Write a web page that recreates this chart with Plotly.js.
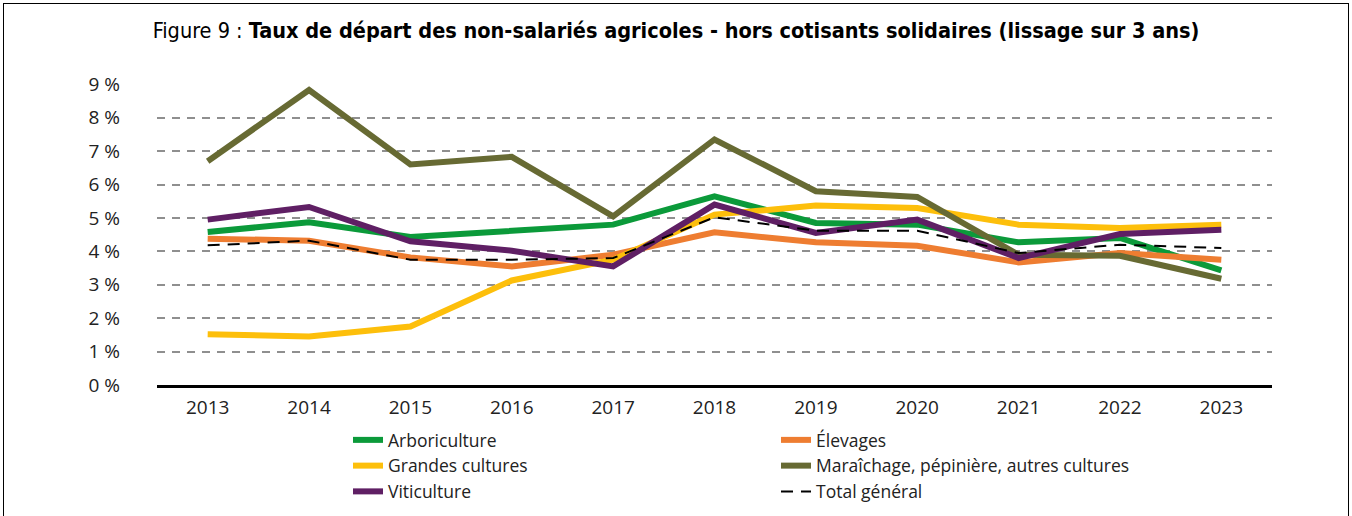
<!DOCTYPE html>
<html>
<head>
<meta charset="utf-8">
<script src="https://cdn.plot.ly/plotly-3.0.1.min.js"></script>
<style>
html,body{margin:0;padding:0;background:#fff;}
#frame{position:absolute;left:3px;top:3px;width:1346px;height:530px;border:1.5px solid #000;box-sizing:border-box;pointer-events:none;z-index:5;}
#chart{position:absolute;left:0;top:0;width:1352px;height:516px;}
</style>
</head>
<body>
<div id="chart"></div>
<div id="frame"></div>
<script>
const years = ["2013","2014","2015","2016","2017","2018","2019","2020","2021","2022","2023"];
const arboriculture = [4.58,4.87,4.43,4.62,4.80,5.65,4.85,4.80,4.27,4.40,3.43];
const elevages      = [4.38,4.32,3.82,3.55,3.90,4.57,4.27,4.17,3.67,3.95,3.75];
const grandesCultures = [1.52,1.45,1.75,3.13,3.75,5.10,5.37,5.30,4.80,4.70,4.80];
const maraichage    = [6.70,8.83,6.60,6.83,5.05,7.35,5.80,5.63,3.90,3.87,3.18];
const viticulture   = [4.95,5.33,4.30,4.02,3.55,5.40,4.55,4.95,3.80,4.52,4.65];
const totalGeneral  = [4.18,4.32,3.75,3.75,3.80,5.02,4.62,4.62,3.95,4.20,4.10];
const yTicks = [0,1,2,3,4,5,6,7,8,9];

const W = 6;
function tr(name, y, color, legend, extra) {
  return Object.assign({
    type: 'scatter', mode: 'lines', x: years, y: y, name: name,
    line: {color: color, width: W},
    legend: legend, hoverinfo: 'skip'
  }, extra || {});
}
const data = [
  tr('Arboriculture', arboriculture, '#0b9a3a', 'legend'),
  tr('Élevages', elevages, '#ee7d31', 'legend2'),
  tr('Grandes cultures', grandesCultures, '#fdbf0b', 'legend'),
  tr('Maraîchage, pépinière, autres cultures', maraichage, '#676a33', 'legend2'),
  tr('Viticulture', viticulture, '#5f1f64', 'legend'),
  tr('Total général', totalGeneral, '#000000', 'legend2', {line: {color: '#000', width: 2, dash: '12px,8px'}})
];

const fontFam = 'Open Sans, Lato, sans-serif';
const legendFont = {family: fontFam, size: 17.5, color: '#222'};
const legTop = -(422 - 385) / 301;
const layout = {
  width: 1352, height: 516,
  margin: {l: 157, r: 80, t: 84, b: 131, autoexpand: false},
  paper_bgcolor: '#fff', plot_bgcolor: '#fff',
  showlegend: true,
  title: {
    text: 'Figure 9 : <b>Taux de départ des non-salariés agricoles - hors cotisants solidaires (lissage sur 3 ans)</b>',
    font: {family: 'DejaVu Sans Condensed, Open Sans, sans-serif', size: 21.5, color: '#000'},
    x: 0.5, xref: 'container', xanchor: 'center',
    y: 1 - 30/516, yref: 'container', yanchor: 'middle'
  },
  xaxis: {
    type: 'category', range: [-0.5, 10.5],
    showgrid: false, zeroline: false,
    showline: true, linecolor: '#000', linewidth: 3,
    ticks: '', ticklabelstandoff: 3,
    tickfont: {family: fontFam, size: 19, color: '#222'},
    fixedrange: true
  },
  yaxis: {
    range: [0, 9.01], tickvals: yTicks, ticktext: yTicks.map(v => v + ' %'),
    showgrid: true, gridcolor: '#8f8f8f', gridwidth: 2, griddash: '8px,7px',
    zeroline: false, showline: false, ticks: '',
    ticklabelstandoff: 36,
    tickfont: {family: fontFam, size: 19, color: '#222'},
    fixedrange: true
  },
  legend: {
    x: (348 - 157)/1115, xanchor: 'left', y: legTop, yanchor: 'top',
    orientation: 'v', font: legendFont, bgcolor: 'rgba(0,0,0,0)',
    tracegroupgap: 0, itemwidth: 30
  },
  legend2: {
    x: (776 - 157)/1115, xanchor: 'left', y: legTop, yanchor: 'top',
    orientation: 'v', font: legendFont, bgcolor: 'rgba(0,0,0,0)',
    tracegroupgap: 0, itemwidth: 30
  }
};
Plotly.newPlot('chart', data, layout, {staticPlot: true, displayModeBar: false});
</script>
</body>
</html>
